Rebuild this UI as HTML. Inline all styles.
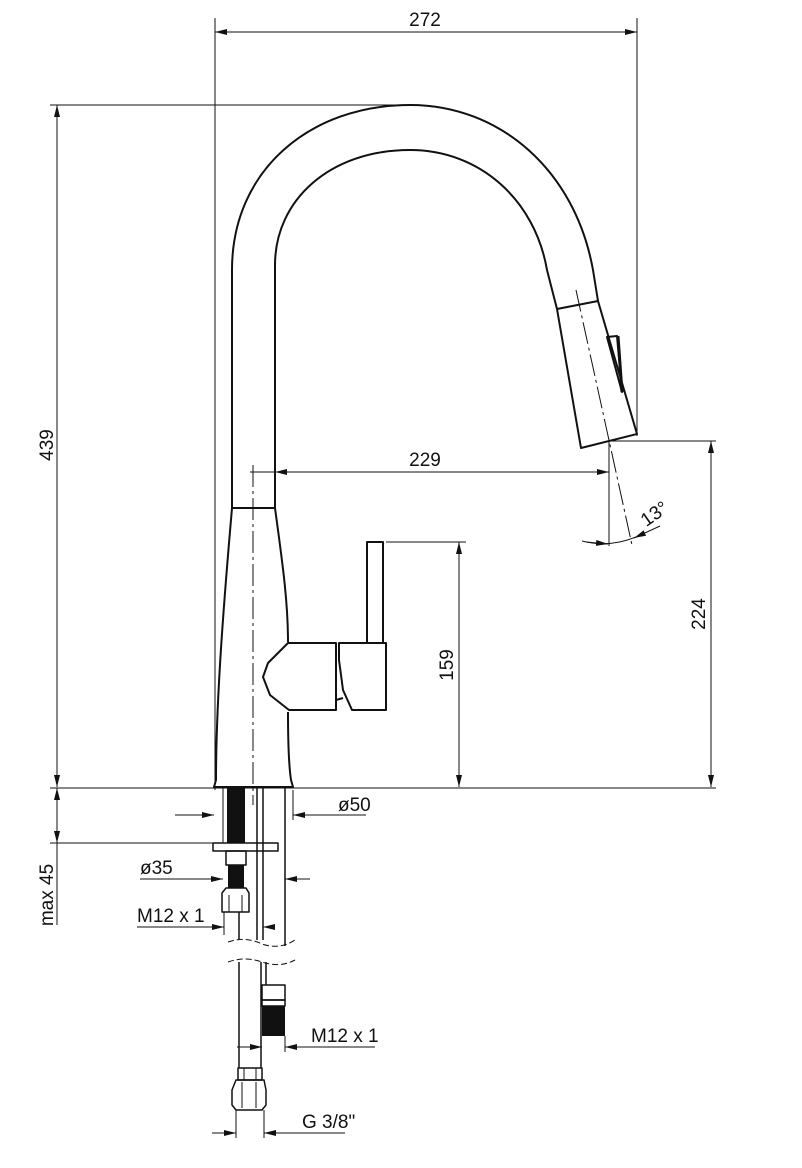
<!DOCTYPE html>
<html><head><meta charset="utf-8"><style>
html,body{margin:0;padding:0;background:#fff;}
svg{display:block;}
text{font-family:"Liberation Sans Narrow","Liberation Sans",sans-serif;font-stretch:condensed;font-size:19px;fill:#111;}
</style></head><body>
<svg width="802" height="1168" viewBox="0 0 802 1168" xmlns="http://www.w3.org/2000/svg">
<defs>
<marker id="a" viewBox="0 0 12 6" refX="12" refY="3" markerWidth="12" markerHeight="6" orient="auto-start-reverse" markerUnits="userSpaceOnUse"><path d="M0,0 L12,3 L0,6 z" fill="#111"/></marker>
</defs>
<g stroke="#111" stroke-width="1" fill="none">
<line x1="215" y1="18" x2="215" y2="790"/>
<line x1="637" y1="18" x2="637" y2="436"/>
<line x1="215" y1="32" x2="637" y2="32" marker-start="url(#a)" marker-end="url(#a)"/>
<line x1="50" y1="105" x2="410" y2="105"/>
<line x1="57" y1="105" x2="57" y2="787" marker-start="url(#a)" marker-end="url(#a)"/>
<line x1="50" y1="788" x2="716" y2="788"/>
<line x1="610" y1="441" x2="716" y2="441"/>
<line x1="711" y1="441" x2="711" y2="787" marker-start="url(#a)" marker-end="url(#a)"/>
<line x1="386" y1="542" x2="466" y2="542"/>
<line x1="459" y1="542" x2="459" y2="787" marker-start="url(#a)" marker-end="url(#a)"/>
<line x1="275" y1="472" x2="609" y2="472" marker-start="url(#a)" marker-end="url(#a)"/>
<line x1="250" y1="472" x2="275" y2="472"/>
<line x1="609" y1="441" x2="609" y2="546"/>
<path d="M582,541 Q609,548 636,537"/>
<line x1="586" y1="542" x2="608" y2="544" marker-end="url(#a)"/>
<line x1="660" y1="526" x2="634" y2="538" marker-end="url(#a)"/>
<line x1="576" y1="290" x2="632" y2="545" stroke-dasharray="22,4,3,4"/>
<line x1="253" y1="465" x2="253" y2="805" stroke-dasharray="22,4,3,4"/>
</g>
<g stroke="#111" stroke-width="2" fill="none" stroke-linejoin="round">
<path d="M232,508 L232,270 C232,170 310,105 410,105 C500,105 575,170 593,270 L598,301"/>
<path d="M275,508 L275,265 C275,200 330,150 410,150 C480,150 535,200 547,270 L557,309"/>
<path d="M557,309 L598,301 L637,434 L581,448 Z"/>
<path d="M607,337 L617,336 L622,392 Z"/>
<line x1="618" y1="336" x2="622" y2="392" stroke-width="3"/>
<path d="M232,508 L275,508"/>
<path d="M232,508 C224,600 216,700 216,780 L214,787 L293,787 L291,780 C288,760 288,730 288,712"/>
<path d="M275,508 C282,560 288,600 288,642"/>
<path d="M288,643 L268,663 L263,677 L270,695 L289,710 L336,710 L336,643 Z"/>
<path d="M339,643 L386,643 L386,710 L352,710 L343,690 L339,660 Z"/>
<path d="M336,700 L343,698"/>
<rect x="367" y="542" width="16" height="101"/>
<rect x="227" y="788" width="18" height="55" fill="#111" stroke="none"/>
<line x1="223" y1="788" x2="223" y2="843" stroke-width="1"/>
<line x1="257" y1="788" x2="257" y2="940" stroke-width="1.5"/>
<line x1="263" y1="788" x2="263" y2="940" stroke-width="1.5"/>
<line x1="285" y1="788" x2="285" y2="946" stroke-width="1.5"/>
<rect x="213" y="843" width="65" height="8" stroke-width="1.5"/>
<rect x="226" y="851" width="20" height="14" stroke-width="1.5"/>
<rect x="228" y="865" width="16" height="23" fill="#111" stroke="none"/>
<path d="M226,888 L246,888 L249,893 L249,912 L222,912 L222,893 Z" stroke-width="1.5"/>
<line x1="229" y1="895" x2="229" y2="912" stroke-width="1"/>
<line x1="242" y1="895" x2="242" y2="912" stroke-width="1"/>
<line x1="239" y1="912" x2="239" y2="940" stroke-width="1.5"/>
<path d="M228,942 Q245,936 262,944 Q280,950 295,940" stroke-width="1" stroke-dasharray="6,3"/>
<path d="M228,962 Q245,956 262,962 Q280,968 295,960" stroke-width="1" stroke-dasharray="6,3"/>
<line x1="239" y1="962" x2="239" y2="1068" stroke-width="1.5"/>
<line x1="261" y1="962" x2="261" y2="1068" stroke-width="1.5"/>
<line x1="266" y1="962" x2="266" y2="985" stroke-width="1.5"/>
<rect x="262" y="985" width="23" height="15" stroke-width="1.5"/>
<rect x="262" y="1000" width="23" height="6" stroke-width="1.5"/>
<rect x="262" y="1006" width="23" height="30" fill="#111" stroke="none"/>
<rect x="238" y="1068" width="24" height="12" stroke-width="1.5"/>
<line x1="244" y1="1068" x2="244" y2="1080" stroke-width="1"/>
<line x1="256" y1="1068" x2="256" y2="1080" stroke-width="1"/>
<path d="M236,1080 L264,1080 L266,1090 L266,1105 L262,1110 L236,1110 L232,1105 L232,1090 Z" stroke-width="1.5"/>
<line x1="242" y1="1082" x2="242" y2="1108" stroke-width="1"/>
<line x1="256" y1="1082" x2="256" y2="1108" stroke-width="1"/>
</g>
<g stroke="#111" stroke-width="1" fill="none">
<line x1="50" y1="843" x2="215" y2="843"/>
<line x1="57" y1="788" x2="57" y2="843" marker-start="url(#a)" marker-end="url(#a)"/>
<line x1="57" y1="843" x2="57" y2="925"/>
<line x1="175" y1="815" x2="214" y2="815" marker-end="url(#a)"/>
<line x1="366" y1="815" x2="293" y2="815" marker-end="url(#a)"/>
<line x1="293" y1="790" x2="293" y2="820"/>
<line x1="140" y1="879" x2="223" y2="879" marker-end="url(#a)"/>
<line x1="310" y1="879" x2="285" y2="879" marker-end="url(#a)"/>
<line x1="137" y1="927" x2="224" y2="927" marker-end="url(#a)"/>
<line x1="272" y1="927" x2="263" y2="927" marker-end="url(#a)"/>
<line x1="224" y1="912" x2="224" y2="935"/>
<line x1="237" y1="1047" x2="262" y2="1047" marker-end="url(#a)"/>
<line x1="375" y1="1047" x2="285" y2="1047" marker-end="url(#a)"/>
<line x1="285" y1="1036" x2="285" y2="1052"/>
<line x1="212" y1="1133" x2="236" y2="1133" marker-end="url(#a)"/>
<line x1="345" y1="1133" x2="264" y2="1133" marker-end="url(#a)"/>
<line x1="236" y1="1110" x2="236" y2="1138"/>
<line x1="264" y1="1110" x2="264" y2="1138"/>
</g>
<text x="425" y="26" text-anchor="middle">272</text>
<text x="425" y="466" text-anchor="middle">229</text>
<text transform="translate(53,445) rotate(-90)" text-anchor="middle">439</text>
<text transform="translate(705,614) rotate(-90)" text-anchor="middle">224</text>
<text transform="translate(453,665) rotate(-90)" text-anchor="middle">159</text>
<text transform="translate(658,519) rotate(-35)" text-anchor="middle">13°</text>
<text transform="translate(53,895) rotate(-90)" text-anchor="middle">max 45</text>
<text x="338" y="811">ø50</text>
<text x="140" y="874">ø35</text>
<text x="137" y="922">M12 x 1</text>
<text x="311" y="1042">M12 x 1</text>
<text x="302" y="1128">G 3/8"</text>
</svg>
</body></html>
